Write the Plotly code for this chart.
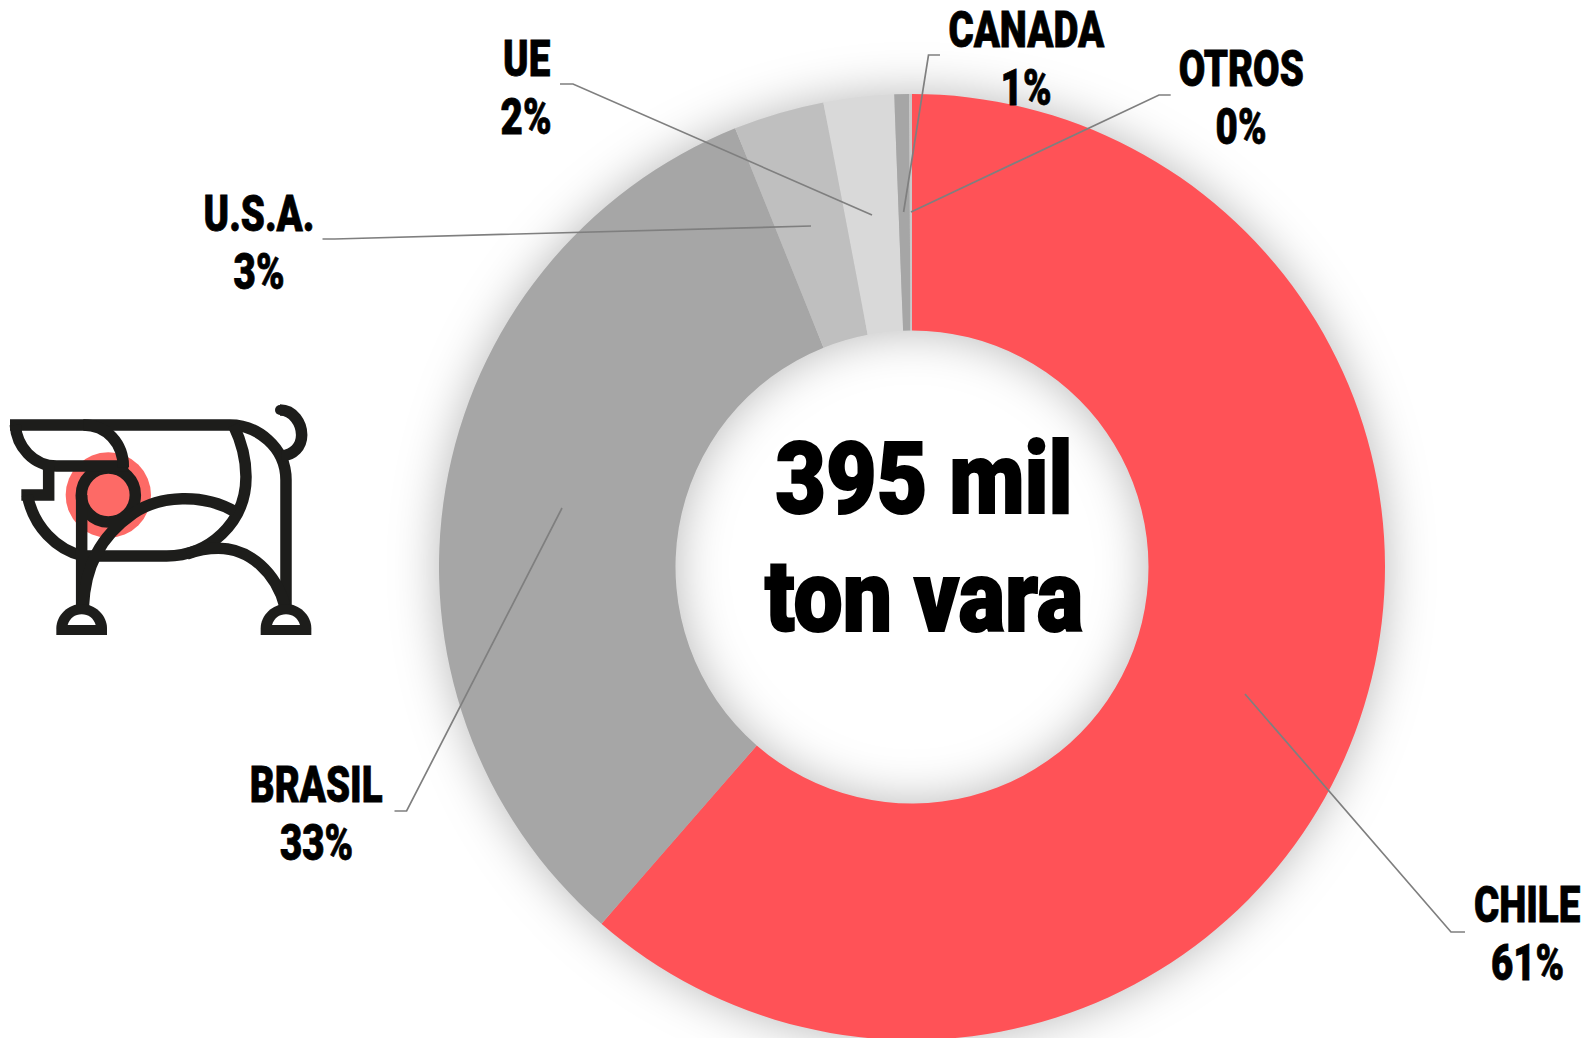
import plotly.graph_objects as go

W, H = 1590, 1040

countries = ["CHILE", "BRASIL", "U.S.A.", "UE", "CANADA", "OTROS"]
shares = [61.4, 32.5, 3.1, 2.4, 0.5, 0.1]
pct_labels = ["61%", "33%", "3%", "2%", "1%", "0%"]
slice_colors = ["#FF5257", "#A6A6A6", "#BFBFBF", "#D9D9D9", "#A6A6A6", "#C8C8C8"]
center_lines = ["395 mil", "ton vara"]

FONT = "Roboto"
LABEL_POS = {
    "CHILE": (1527, 905, 963), "BRASIL": (316, 785, 843), "U.S.A.": (258.5, 214, 272),
    "UE": (526, 59, 117), "CANADA": (1026, 30, 88), "OTROS": (1241, 69, 127),
}
LEADERS = [
    [(1465, 932), (1451, 932), (1245, 694)],
    [(394.5, 811), (406.6, 811), (562, 508)],
    [(322.5, 239), (334.6, 239), (811, 226)],
    [(560, 84), (573, 84), (872, 215)],
    [(940, 55), (928.5, 55), (903.6, 212)],
    [(1170.7, 95), (1159, 95), (911, 212)],
]


def px(x, y):
    return x / W, 1 - y / H


def path(cmds):
    out = []
    for c, *pts in cmds:
        out.append(c + " ".join(f"{px(*p)[0]:.5f},{px(*p)[1]:.5f}" for p in pts))
    return " ".join(out)


def z(x, y):
    return x / 3, 380 + y / 3


shapes = []

RED = "#FD6A66"
INK = "#1D1D1B"
SW = 11.5


def disk(cx, cy, r, fill, line=None, lw=0):
    x0, y1 = px(*z(cx - r, cy - r))
    x1, y0 = px(*z(cx + r, cy + r))
    shapes.append(dict(type="circle", xref="paper", yref="paper", x0=x0, x1=x1, y0=y0, y1=y1,
                       fillcolor=fill, line=dict(color=line or fill, width=lw), layer="above"))


def stroke(*cmds):
    conv = [(c, *[z(*p) for p in pts]) for c, *pts in cmds]
    shapes.append(dict(type="path", xref="paper", yref="paper", path=path(conv),
                       line=dict(color=INK, width=SW), layer="above"))


def fill(color, *cmds):
    conv = [(c, *[z(*p) for p in pts]) for c, *pts in cmds]
    shapes.append(dict(type="path", xref="paper", yref="paper", path=path(conv) + " Z",
                       fillcolor=color, line=dict(color=color, width=0), layer="above"))


disk(325, 345, 128, RED)
disk(325, 345, 81, RED, INK, SW)
stroke(("M", (30, 135)), ("L", (690, 135)), ("C", (770, 135), (858, 200), (858, 300)), ("L", (858, 690)))
stroke(("M", (46, 135)), ("C", (50, 200), (100, 258), (170, 258)), ("L", (385, 258)))
stroke(("M", (250, 135)), ("C", (320, 135), (370, 190), (370, 262)))
stroke(("M", (146, 258)), ("L", (146, 345)), ("L", (64, 345)))
stroke(("M", (82, 345)), ("C", (100, 440), (170, 510), (250, 528)), ("L", (500, 528)),
       ("C", (625, 528), (738, 430), (738, 290)), ("C", (738, 230), (722, 180), (700, 135)))
stroke(("M", (245, 345)), ("L", (245, 690)))
stroke(("M", (250, 680)), ("C", (255, 560), (300, 470), (400, 400)), ("C", (480, 345), (610, 340), (705, 395)))
stroke(("M", (560, 522)), ("C", (600, 508), (630, 505), (655, 505)),
       ("C", (750, 505), (830, 580), (855, 680)))
stroke(("M", (840, 90)), ("C", (880, 90), (905, 130), (905, 165)), ("C", (905, 200), (880, 225), (845, 228)))
disk(840, 90, 15, INK)
for fx in (245, 858):
    fill(INK, ("M", (fx - 76, 765)), ("L", (fx - 76, 745)), ("C", (fx - 76, 705), (fx - 40, 672), (fx, 672)),
         ("C", (fx + 40, 672), (fx + 76, 705), (fx + 76, 745)), ("L", (fx + 76, 765)))
    fill("#FFFFFF", ("M", (fx - 42, 735)), ("C", (fx - 36, 715), (fx - 20, 703), (fx, 703)),
         ("C", (fx + 20, 703), (fx + 36, 715), (fx + 42, 735)))

for pts in LEADERS:
    shapes.append(dict(type="path", xref="paper", yref="paper",
                       path=path([("M", pts[0]), ("L", pts[1]), ("L", pts[2])]),
                       line=dict(color="#7F7F7F", width=1.7), layer="above"))

annotations = []


def label(text, x, y, size):
    fx, fy = px(x, y)
    annotations.append(dict(text=text, x=fx, y=fy, xref="paper", yref="paper",
                            xanchor="center", yanchor="middle", showarrow=False,
                            font=dict(family=FONT, size=size, color="#000000", weight=900)))


for name, pct in zip(countries, pct_labels):
    x, y1, y2 = LABEL_POS[name]
    label(name, x, y1, 50)
    label(pct, x, y2, 50)
label(center_lines[0], 924, 479, 100)
label(center_lines[1], 924, 596, 100)

fig = go.Figure(go.Pie(
    labels=countries, values=shares, hole=0.5, sort=False, direction="clockwise", rotation=0,
    marker=dict(colors=slice_colors, line=dict(width=0)), textinfo="none", hoverinfo="skip",
    domain=dict(x=[439 / W, 1385 / W], y=[0, 946 / H]), showlegend=False,
))
fig.update_layout(width=W, height=H, margin=dict(l=0, r=0, t=0, b=0), paper_bgcolor="#FFFFFF",
                  shapes=shapes, annotations=annotations)

post = """
document.body.style.margin='0';
document.documentElement.style.overflow='hidden';
var p=document.querySelector('.pielayer');
if(p){p.style.filter='drop-shadow(0 0 24px rgba(0,0,0,0.28))';}
document.querySelectorAll('.annotation-text').forEach(function(t){
  var b=t.getBBox(), c=b.x+b.width/2, big=b.height>80;
  var s=big?0.875:0.77;
  t.setAttribute('transform','translate('+c+',0) scale('+s+',1) translate('+(-c)+',0)');
  t.style.stroke='#000';
  t.style.strokeWidth=big?'2px':'0.8px';
});
"""
fig.write_html("out.html", post_script=post, config={"displayModeBar": False, "staticPlot": True})
